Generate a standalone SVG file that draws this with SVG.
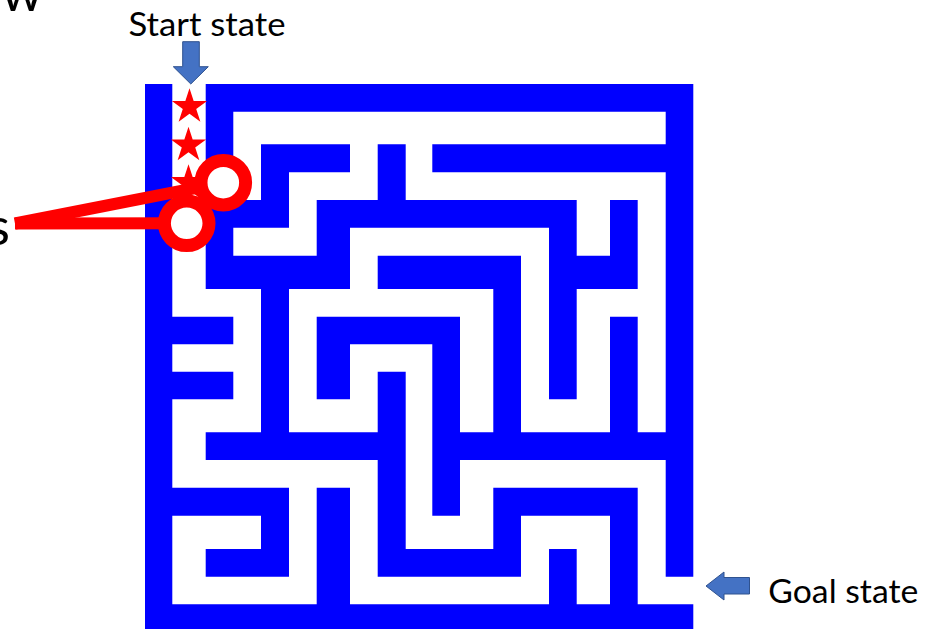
<svg xmlns="http://www.w3.org/2000/svg" width="932" height="629" viewBox="0 0 932 629">
<style>
.lbl{font-family:Lato,"Open Sans","Liberation Sans",sans-serif;fill:#000}
.wall{fill:#0000FF}
.arrow{fill:#4472C4;stroke:#2F528F;stroke-width:1}
.mk{fill:#FF0000}
.ring{fill:#FFFFFF;stroke:#FF0000;stroke-width:13}
.ptr{stroke:#FF0000;stroke-width:12;fill:none}
</style>
<defs>
<polygon id="star" points="0,-18.5 4.16,-5.72 17.6,-5.72 6.72,2.18 10.87,14.97 0,7.07 -10.87,14.97 -6.72,2.18 -17.6,-5.72 -4.16,-5.72"/>
</defs>
<rect width="932" height="629" fill="#FFFFFF"/>
<g id="partial-text">
<text class="lbl" x="43" y="11" font-size="53" text-anchor="end">ow</text>
<text class="lbl" x="10" y="244.5" font-size="53" text-anchor="end">s</text>
</g>
<g id="maze">
<path class="wall" d="M145,84H172.3V111.7H145Z M205.7,84H693.3V111.7H205.7Z
M145,111.7H172.3V144.3H145Z M205.7,111.7H233.3V144.3H205.7Z M665.7,111.7H693.3V144.3H665.7Z
M145,144.3H172.3V172.3H145Z M205.7,144.3H233.3V172.3H205.7Z M261,144.3H350V172.3H261Z M377.7,144.3H405.7V172.3H377.7Z M432.3,144.3H693.3V172.3H432.3Z
M145,172.3H172.3V200H145Z M261,172.3H289V200H261Z M377.7,172.3H405.7V200H377.7Z M665.7,172.3H693.3V200H665.7Z
M145,200H172.3V227.7H145Z M205.7,200H289V227.7H205.7Z M316.7,200H576.7V227.7H316.7Z M610,200H637.7V227.7H610Z M665.7,200H693.3V227.7H665.7Z
M145,227.7H172.3V255.7H145Z M205.7,227.7H233.3V255.7H205.7Z M316.7,227.7H350V255.7H316.7Z M549,227.7H576.7V255.7H549Z M610,227.7H637.7V255.7H610Z M665.7,227.7H693.3V255.7H665.7Z
M145,255.7H172.3V289H145Z M205.7,255.7H350V289H205.7Z M377.7,255.7H521V289H377.7Z M549,255.7H637.7V289H549Z M665.7,255.7H693.3V289H665.7Z
M145,289H172.3V316.7H145Z M261,289H289V316.7H261Z M493.3,289H521V316.7H493.3Z M549,289H576.7V316.7H549Z M665.7,289H693.3V316.7H665.7Z
M145,316.7H233.3V344.3H145Z M261,316.7H289V344.3H261Z M316.7,316.7H460V344.3H316.7Z M493.3,316.7H521V344.3H493.3Z M549,316.7H576.7V344.3H549Z M610,316.7H637.7V344.3H610Z M665.7,316.7H693.3V344.3H665.7Z
M145,344.3H172.3V371.7H145Z M261,344.3H289V371.7H261Z M316.7,344.3H350V371.7H316.7Z M432.3,344.3H460V371.7H432.3Z M493.3,344.3H521V371.7H493.3Z M549,344.3H576.7V371.7H549Z M610,344.3H637.7V371.7H610Z M665.7,344.3H693.3V371.7H665.7Z
M145,371.7H233.3V399.3H145Z M261,371.7H289V399.3H261Z M316.7,371.7H350V399.3H316.7Z M377.7,371.7H405.7V399.3H377.7Z M432.3,371.7H460V399.3H432.3Z M493.3,371.7H521V399.3H493.3Z M549,371.7H576.7V399.3H549Z M610,371.7H637.7V399.3H610Z M665.7,371.7H693.3V399.3H665.7Z
M145,399.3H172.3V432.3H145Z M261,399.3H289V432.3H261Z M377.7,399.3H405.7V432.3H377.7Z M432.3,399.3H460V432.3H432.3Z M493.3,399.3H521V432.3H493.3Z M610,399.3H637.7V432.3H610Z M665.7,399.3H693.3V432.3H665.7Z
M145,432.3H172.3V460H145Z M205.7,432.3H405.7V460H205.7Z M432.3,432.3H693.3V460H432.3Z
M145,460H172.3V487.7H145Z M377.7,460H405.7V487.7H377.7Z M432.3,460H460V487.7H432.3Z M665.7,460H693.3V487.7H665.7Z
M145,487.7H289V515.7H145Z M316.7,487.7H350V515.7H316.7Z M377.7,487.7H405.7V515.7H377.7Z M432.3,487.7H460V515.7H432.3Z M493.3,487.7H637.7V515.7H493.3Z M665.7,487.7H693.3V515.7H665.7Z
M145,515.7H172.3V549H145Z M261,515.7H289V549H261Z M316.7,515.7H350V549H316.7Z M377.7,515.7H405.7V549H377.7Z M493.3,515.7H521V549H493.3Z M610,515.7H637.7V549H610Z M665.7,515.7H693.3V549H665.7Z
M145,549H172.3V576.7H145Z M205.7,549H289V576.7H205.7Z M316.7,549H350V576.7H316.7Z M377.7,549H521V576.7H377.7Z M549,549H576.7V576.7H549Z M610,549H637.7V576.7H610Z M665.7,549H693.3V576.7H665.7Z
M145,576.7H172.3V604.3H145Z M316.7,576.7H350V604.3H316.7Z M549,576.7H576.7V604.3H549Z M610,576.7H637.7V604.3H610Z
M145,604.3H693.3V632H145Z"/>
</g>
<g id="start-label">
<text class="lbl" x="207" y="36" font-size="32" text-anchor="middle" textLength="157" lengthAdjust="spacingAndGlyphs">Start state</text>
<path class="arrow" d="M182.7,41.7H199.3V66.7H208.3L190.8,84L173.3,66.7H182.7Z"/>
</g>
<g id="goal-label">
<text class="lbl" x="843.3" y="603.3" font-size="32" text-anchor="middle" textLength="150" lengthAdjust="spacingAndGlyphs">Goal state</text>
<path class="arrow" d="M749.5,577.5V594H724V600L706,586L724,572V577.5Z"/>
</g>
<g id="path-stars">
<use href="#star" class="mk" x="189.5" y="106.8"/>
<use href="#star" class="mk" x="188.5" y="145.2"/>
<use href="#star" class="mk" x="188.5" y="182.8"/>
</g>
<g id="connectors">
<line class="ptr" x1="15" y1="223.5" x2="223.3" y2="182.7"/>
<line class="ptr" x1="15" y1="223.5" x2="186.7" y2="223.3"/>
</g>
<g id="circles">
<circle class="ring" cx="223.3" cy="182.7" r="22.3"/>
<circle class="ring" cx="186.7" cy="223.3" r="22.3"/>
</g>
</svg>
